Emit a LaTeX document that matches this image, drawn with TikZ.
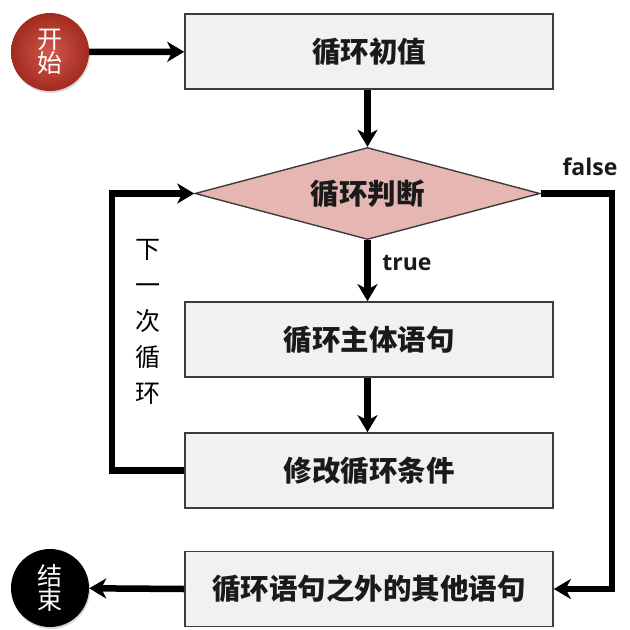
\documentclass[tikz,border=0pt]{standalone}
\usepackage{fontspec}
\newfontfamily\cjk{Noto Sans CJK SC}
\newfontfamily\latinlbl{Open Sans}
\usetikzlibrary{arrows.meta,shapes.geometric,shadows}
\definecolor{boxfill}{HTML}{F1F1F1}
\definecolor{boxline}{HTML}{3C3C3C}
\definecolor{decfill}{HTML}{E6B7B2}
\definecolor{startred}{HTML}{C93A2C}
\definecolor{startdark}{HTML}{A32A1E}
\definecolor{lbltext}{HTML}{1A1A1A}
\tikzset{
  stepbox/.style={draw=boxline, line width=1.6pt, fill=boxfill,
    minimum width=368pt, minimum height=75pt, inner sep=0pt,
    font=\cjk\bfseries\fontsize{28.5}{30}\selectfont, text=lbltext},
  decision/.style={diamond, draw=boxline, line width=1.4pt, fill=decfill,
    aspect=3.7, minimum width=345pt, minimum height=92pt, inner sep=0pt,
    font=\cjk\bfseries\fontsize{28.5}{30}\selectfont, text=lbltext},
  terminal/.style={circle, minimum size=78pt, inner sep=0pt, text=white,
    align=center, font=\cjk\fontsize{25}{26}\selectfont,
    drop shadow={shadow xshift=1pt, shadow yshift=-2pt, opacity=0.3}},
  flow/.style={line width=6.5pt, -{Stealth[length=17pt,width=20pt,inset=5pt]}},
  branchlbl/.style={font=\latinlbl\bfseries\fontsize{23}{25}\selectfont, text=lbltext},
  looplbl/.style={font=\cjk\fontsize{25}{36}\selectfont, text=black, align=center}
}
\begin{document}
\begin{tikzpicture}[x=1pt,y=-1pt]
  \useasboundingbox (0,0) rectangle (630,630);
  \fill[white] (0,0) rectangle (630,630);

  % start and end terminals
  \node[terminal, inner color=startred!85!white, outer color=startdark] (start) at (50,52) {开\\[-2pt]始};
  \node[terminal, fill=black] (stop) at (50,588) {结\\[-2pt]束};

  % process steps
  \node[stepbox] (init) at (369,51.5) {循环初值};
  \node[decision] (test) at (367.5,193.5) {循环判断};
  \node[stepbox] (body) at (369,339.5) {循环主体语句};
  \node[stepbox] (update) at (369,470.5) {修改循环条件};
  \node[stepbox] (after) at (369,589) {循环语句之外的其他语句};

  \coordinate (loopcorner) at (112,470.5);
  \coordinate (exitcorner) at (612,193.5);

  % connectors
  \draw[flow] (start) -- (init);
  \draw[flow] (init.south -| test.north) -- (test.north);
  \draw[flow] (test.south) -- (test.south |- body.north);
  \draw[flow] (body.south -| test.south) -- (update.north -| test.south);
  \draw[flow] (update.west) -- (loopcorner) -- (loopcorner |- test.west) -- (test.west);
  \draw[flow] (test.east) -- (exitcorner) -- (exitcorner |- after.east) -- (after.east);
  \draw[flow] (after.west) -- (stop);

  % labels
  \node[branchlbl] (falselbl) at (590,167) {false};
  \node[branchlbl] (truelbl) at (407,263) {true};
  \node[looplbl] (nextlbl) at (148,322) {下\\一\\次\\循\\环};
\end{tikzpicture}
\end{document}
